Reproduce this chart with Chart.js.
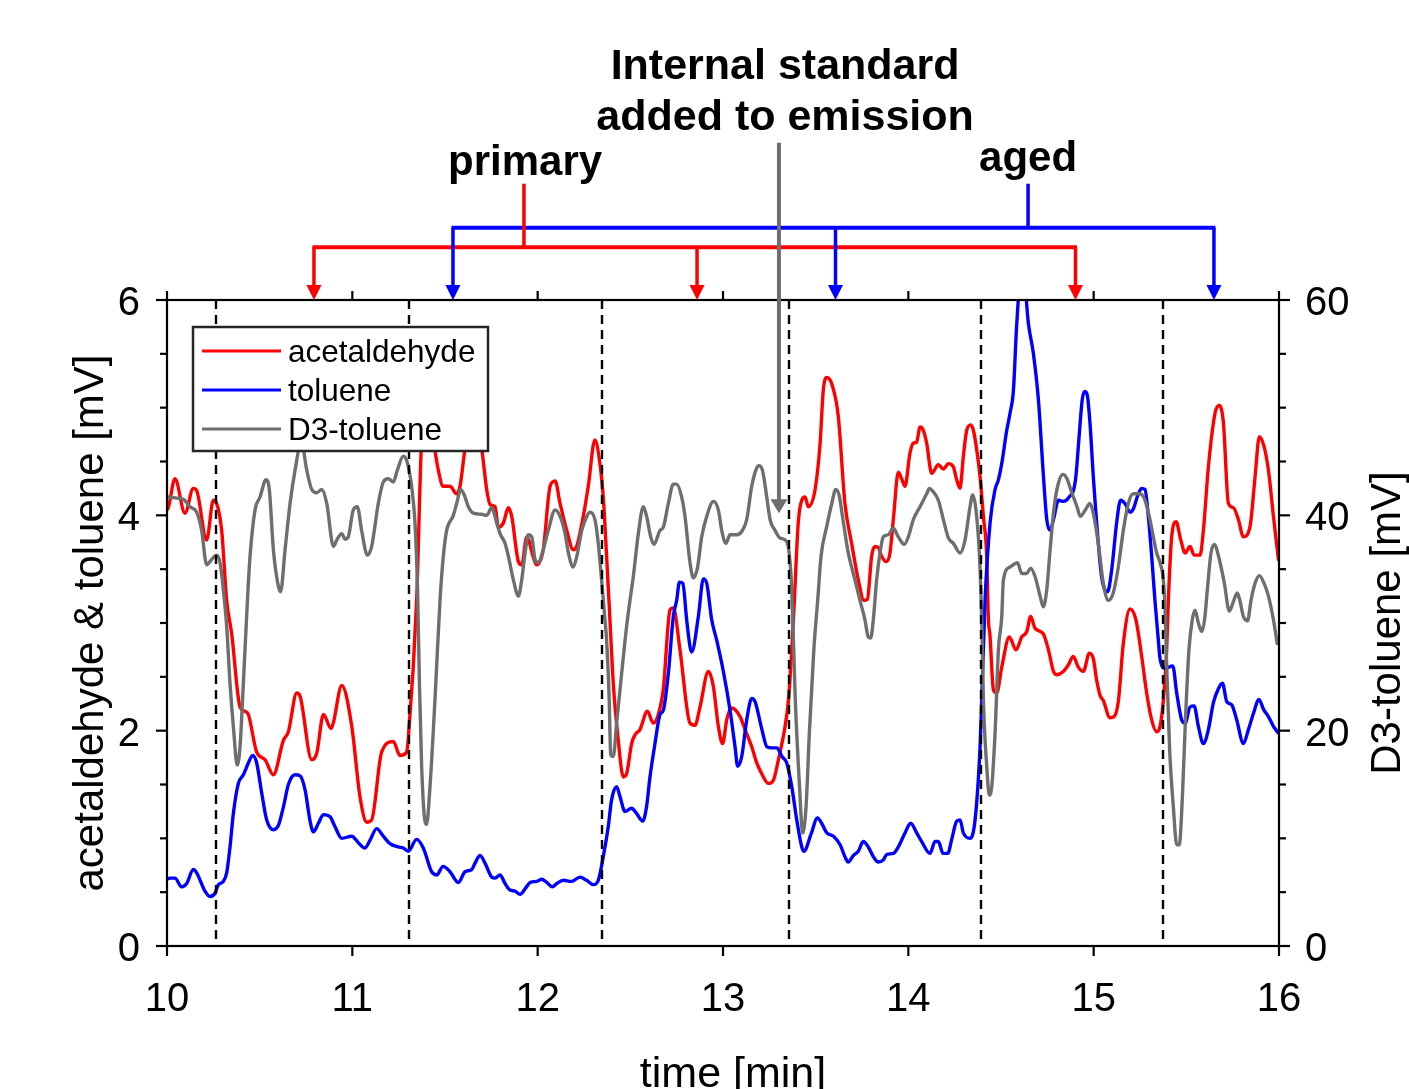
<!DOCTYPE html>
<html><head><meta charset="utf-8">
<script src="https://cdn.jsdelivr.net/npm/chart.js@4.4.1/dist/chart.umd.min.js"></script>
<style>html,body{margin:0;padding:0;background:#fff;overflow:hidden}canvas{display:block}</style>
</head><body>
<canvas id="c" width="1409" height="1089"></canvas>
<script>
// ---------- data (time in min, signal in mV) ----------
const seriesNames = ['acetaldehyde', 'toluene', 'D3-toluene'];
const seriesColors = ['#ff0000', '#0000ff', '#6e6e6e'];

const acetTime = [10.000,10.007,10.043,10.097,10.142,10.160,10.214,10.250,10.268,10.295,10.322,10.349,10.394,10.421,10.439,10.484,10.529,10.574,10.628,10.655,10.700,10.718,10.781,10.808,10.844,10.885,10.897,10.943,10.997,11.041,11.078,11.104,11.158,11.221,11.257,11.293,11.302,11.347,11.374,11.410,11.446,11.464,11.490,11.527,11.563,11.581,11.608,11.650,11.698,11.725,11.743,11.770,11.788,11.815,11.842,11.860,11.896,11.914,11.941,11.977,11.995,12.030,12.067,12.094,12.121,12.157,12.192,12.210,12.246,12.273,12.309,12.336,12.354,12.372,12.390,12.408,12.435,12.462,12.480,12.507,12.525,12.552,12.592,12.624,12.651,12.678,12.714,12.732,12.768,12.822,12.849,12.876,12.921,12.948,12.975,12.998,13.020,13.047,13.092,13.119,13.155,13.182,13.209,13.245,13.272,13.299,13.335,13.353,13.371,13.385,13.406,13.425,13.443,13.460,13.497,13.524,13.541,13.560,13.587,13.622,13.658,13.694,13.730,13.761,13.779,13.802,13.820,13.838,13.856,13.880,13.901,13.919,13.946,13.964,13.982,14.009,14.027,14.045,14.063,14.081,14.099,14.126,14.162,14.189,14.216,14.243,14.261,14.279,14.297,14.315,14.337,14.351,14.369,14.387,14.405,14.423,14.432,14.440,14.459,14.477,14.504,14.545,14.581,14.612,14.639,14.660,14.684,14.728,14.756,14.783,14.800,14.836,14.863,14.890,14.917,14.944,14.977,14.998,15.016,15.034,15.052,15.088,15.110,15.133,15.160,15.196,15.228,15.259,15.286,15.313,15.340,15.358,15.376,15.394,15.403,15.421,15.445,15.470,15.494,15.520,15.542,15.574,15.592,15.619,15.655,15.678,15.700,15.727,15.754,15.781,15.808,15.844,15.871,15.894,15.919,15.943,15.970,15.997];
const acetVals = [4.05,4.07,4.34,4.02,4.25,4.23,3.77,4.14,4.11,3.86,3.21,2.90,2.22,2.18,2.15,1.80,1.73,1.59,1.91,1.99,2.35,2.32,1.73,1.79,2.15,2.02,2.07,2.42,2.04,1.39,1.15,1.17,1.80,1.90,1.77,1.80,1.93,3.21,4.70,5.05,4.60,4.42,4.27,4.27,4.20,4.27,4.62,5.00,4.62,4.24,4.10,4.08,3.89,3.93,4.07,3.99,3.57,3.54,3.80,3.61,3.54,3.68,4.27,4.32,4.11,3.86,3.68,3.71,3.99,4.27,4.70,4.48,4.17,3.62,3.03,2.44,1.91,1.57,1.60,1.88,1.96,2.01,2.18,2.07,2.15,2.39,3.12,3.14,2.75,2.07,2.05,2.22,2.55,2.41,2.04,1.88,2.10,2.21,2.13,2.01,1.85,1.70,1.60,1.51,1.54,1.73,2.04,2.28,2.75,3.21,3.93,4.14,4.17,4.08,4.24,4.67,5.16,5.28,5.22,4.92,4.11,3.74,3.40,3.21,3.22,3.62,3.71,3.70,3.62,3.57,3.65,3.96,4.40,4.34,4.27,4.58,4.67,4.68,4.82,4.79,4.67,4.39,4.47,4.43,4.48,4.45,4.33,4.25,4.55,4.79,4.84,4.79,4.61,4.36,3.99,3.62,3.03,2.90,2.38,2.35,2.59,2.87,2.75,2.87,2.92,3.06,2.95,2.90,2.75,2.55,2.52,2.55,2.61,2.69,2.59,2.55,2.72,2.67,2.47,2.33,2.28,2.12,2.13,2.27,2.81,3.13,3.03,2.69,2.35,2.10,1.99,2.04,2.28,2.75,3.21,3.80,3.94,3.77,3.65,3.71,3.63,3.63,3.86,4.45,4.95,5.02,4.86,4.11,4.07,3.96,3.80,3.90,4.36,4.73,4.64,4.42,3.99,3.59];

const tolTime = [10.000,10.016,10.043,10.079,10.106,10.142,10.160,10.205,10.232,10.259,10.277,10.304,10.322,10.340,10.358,10.385,10.412,10.439,10.462,10.484,10.511,10.538,10.574,10.601,10.628,10.655,10.691,10.718,10.745,10.772,10.790,10.817,10.844,10.880,10.906,10.943,10.997,11.032,11.068,11.095,11.131,11.167,11.203,11.248,11.275,11.302,11.347,11.383,11.428,11.455,11.490,11.527,11.572,11.608,11.644,11.662,11.689,11.716,11.752,11.770,11.797,11.824,11.851,11.878,11.905,11.932,11.959,11.995,12.022,12.049,12.079,12.103,12.138,12.183,12.228,12.264,12.300,12.327,12.354,12.381,12.399,12.426,12.444,12.471,12.507,12.534,12.567,12.588,12.606,12.633,12.660,12.678,12.705,12.732,12.750,12.765,12.783,12.804,12.822,12.831,12.867,12.894,12.912,12.939,12.966,13.002,13.038,13.065,13.079,13.101,13.128,13.155,13.173,13.210,13.237,13.264,13.291,13.318,13.344,13.371,13.398,13.425,13.437,13.475,13.510,13.532,13.560,13.596,13.632,13.658,13.676,13.703,13.730,13.757,13.784,13.811,13.838,13.865,13.883,13.919,13.946,13.982,14.013,14.045,14.072,14.117,14.144,14.162,14.187,14.213,14.234,14.261,14.279,14.297,14.333,14.360,14.387,14.396,14.414,14.441,14.468,14.486,14.504,14.531,14.549,14.567,14.585,14.615,14.648,14.675,14.702,14.728,14.747,14.765,14.783,14.810,14.836,14.863,14.902,14.920,14.938,14.951,14.965,14.980,14.998,15.016,15.043,15.075,15.097,15.124,15.145,15.169,15.196,15.214,15.241,15.259,15.277,15.295,15.313,15.331,15.349,15.358,15.385,15.427,15.448,15.475,15.494,15.520,15.542,15.565,15.592,15.619,15.646,15.673,15.695,15.718,15.745,15.772,15.808,15.835,15.862,15.892,15.916,15.943,15.970,15.995];
const tolVals = [0.62,0.63,0.63,0.55,0.58,0.71,0.68,0.51,0.46,0.49,0.57,0.60,0.68,0.92,1.23,1.51,1.59,1.70,1.77,1.70,1.42,1.17,1.08,1.12,1.29,1.50,1.59,1.58,1.45,1.16,1.06,1.14,1.22,1.20,1.11,1.00,1.02,0.96,0.91,0.98,1.09,1.02,0.95,0.92,0.91,0.88,0.99,0.91,0.69,0.66,0.74,0.69,0.59,0.69,0.71,0.77,0.84,0.77,0.64,0.63,0.66,0.58,0.52,0.51,0.48,0.53,0.59,0.60,0.62,0.59,0.55,0.58,0.61,0.60,0.64,0.61,0.57,0.61,0.83,1.11,1.36,1.48,1.39,1.25,1.28,1.23,1.16,1.30,1.57,1.88,2.15,2.19,2.53,3.06,3.21,3.38,3.37,3.03,2.78,2.73,3.06,3.41,3.37,3.03,2.84,2.55,2.19,1.85,1.67,1.76,2.10,2.30,2.27,2.01,1.85,1.84,1.84,1.76,1.70,1.48,1.17,0.92,0.88,1.04,1.19,1.14,1.05,1.02,0.94,0.83,0.78,0.84,0.88,0.97,0.92,0.83,0.78,0.80,0.85,0.86,0.92,1.05,1.14,1.05,0.97,0.86,0.97,0.97,0.86,0.86,0.99,1.16,1.17,1.05,1.00,1.17,1.85,2.29,3.21,3.93,4.24,4.33,4.48,4.79,4.95,5.16,5.78,6.35,5.78,5.50,5.07,4.39,3.96,3.86,3.96,4.14,4.13,4.16,4.33,4.70,5.07,5.15,5.12,4.86,4.36,3.93,3.43,3.29,3.49,3.93,4.14,4.11,4.03,4.06,4.20,4.25,4.24,3.99,3.62,3.20,2.84,2.67,2.58,2.60,2.35,2.10,2.07,2.22,2.23,2.04,1.88,2.01,2.26,2.39,2.44,2.27,2.24,2.10,1.88,2.01,2.16,2.29,2.20,2.13,2.04,1.98];

const d3Time = [10.000,10.007,10.052,10.088,10.124,10.160,10.187,10.214,10.241,10.268,10.286,10.304,10.322,10.340,10.358,10.379,10.394,10.412,10.434,10.448,10.475,10.502,10.534,10.552,10.574,10.601,10.613,10.637,10.664,10.691,10.725,10.754,10.781,10.808,10.835,10.862,10.898,10.916,10.943,10.960,10.978,11.005,11.027,11.050,11.081,11.104,11.140,11.167,11.194,11.221,11.243,11.275,11.293,11.302,11.320,11.338,11.352,11.362,11.374,11.392,11.401,11.419,11.446,11.473,11.491,11.509,11.545,11.563,11.585,11.608,11.626,11.653,11.698,11.725,11.752,11.779,11.797,11.824,11.842,11.869,11.896,11.914,11.932,11.950,11.968,11.986,12.004,12.030,12.057,12.094,12.121,12.148,12.166,12.192,12.210,12.238,12.265,12.282,12.309,12.327,12.345,12.363,12.372,12.386,12.394,12.408,12.426,12.453,12.480,12.498,12.516,12.543,12.570,12.588,12.610,12.628,12.660,12.678,12.705,12.732,12.750,12.777,12.795,12.822,12.840,12.862,12.885,12.912,12.948,12.975,12.993,13.016,13.038,13.074,13.101,13.128,13.155,13.182,13.196,13.214,13.236,13.254,13.281,13.307,13.343,13.357,13.371,13.390,13.412,13.430,13.448,13.466,13.490,13.511,13.529,13.560,13.587,13.608,13.626,13.650,13.676,13.712,13.739,13.766,13.784,13.797,13.811,13.829,13.847,13.865,13.892,13.919,13.946,13.978,14.000,14.027,14.063,14.099,14.113,14.134,14.162,14.189,14.216,14.243,14.279,14.306,14.333,14.347,14.365,14.383,14.396,14.405,14.423,14.437,14.450,14.468,14.486,14.504,14.513,14.549,14.589,14.612,14.639,14.660,14.684,14.711,14.728,14.747,14.765,14.787,14.810,14.834,14.856,14.880,14.910,14.928,14.955,14.980,14.998,15.025,15.052,15.079,15.106,15.133,15.160,15.187,15.214,15.250,15.277,15.300,15.322,15.340,15.358,15.376,15.386,15.394,15.410,15.430,15.448,15.462,15.478,15.496,15.514,15.532,15.547,15.565,15.583,15.599,15.614,15.633,15.651,15.678,15.705,15.732,15.754,15.775,15.790,15.808,15.830,15.850,15.871,15.894,15.919,15.943,15.970,15.990];
const d3Vals = [41.7,41.7,41.6,41.5,40.8,40.3,38.6,35.4,35.9,36.3,35.6,33.1,29.7,24.4,20.4,16.8,18.5,24.4,32.1,36.2,40.5,41.7,43.3,42.4,36.8,33.4,32.9,36.8,41.1,44.2,46.8,44.2,42.4,42.1,42.4,41.1,37.1,37.7,38.3,37.8,38.0,40.5,40.8,38.6,36.3,37.1,41.1,43.1,43.4,43.1,44.2,45.5,45.1,44.5,42.7,39.3,33.1,24.4,16.7,11.6,11.3,14.8,22.9,32.1,36.2,38.6,40.0,41.1,42.4,41.7,40.8,40.2,40.1,40.0,40.7,39.3,38.3,37.4,36.2,34.0,32.5,34.0,36.5,38.2,38.0,35.9,35.6,36.8,38.6,40.5,39.9,38.3,36.5,35.2,36.1,38.6,39.9,40.3,39.6,37.4,34.0,30.3,28.4,22.9,17.8,17.6,20.7,25.3,29.7,32.1,34.3,38.3,40.8,39.9,38.0,37.3,38.6,38.9,41.1,42.9,42.9,41.7,39.9,35.6,34.2,35.1,38.0,39.9,41.3,40.5,38.6,37.4,38.2,38.2,38.5,39.6,42.7,44.4,44.6,44.1,41.7,39.6,38.6,37.9,37.6,36.5,33.1,22.9,15.1,10.5,12.9,19.8,27.5,32.1,36.2,39.0,41.1,42.4,41.9,39.3,36.5,34.0,32.1,30.3,28.7,28.6,30.3,34.0,36.5,38.0,38.2,38.8,38.0,37.3,38.0,39.6,40.8,42.0,42.5,42.2,41.4,39.6,37.9,37.4,36.5,37.7,40.8,41.9,40.5,36.5,30.3,22.9,16.7,14.0,14.8,19.8,27.5,30.6,34.0,35.2,35.6,34.6,34.6,35.1,34.3,32.5,31.5,33.1,36.8,40.8,43.0,43.8,43.4,42.2,40.8,39.9,40.5,41.1,40.2,37.4,33.7,32.1,32.8,35.2,38.6,41.1,42.0,42.0,41.4,39.9,38.0,36.5,35.6,34.0,31.0,26.0,18.2,12.9,9.4,9.4,13.6,21.3,27.5,30.3,31.2,30.0,29.2,30.4,33.2,36.5,37.3,35.9,33.7,31.1,32.0,32.8,32.0,30.6,30.2,32.2,33.7,34.4,33.7,32.5,30.3,28.1];

// axis ticks
const xTickValues = [10, 11, 12, 13, 14, 15, 16];
const leftTickLabels = [0, 2, 4, 6];
const rightTickLabels = [0, 20, 40, 60];

// annotations (times in min)
const injectionTimes = [10.264, 11.306, 12.347, 13.356, 14.392, 15.374];
const primaryArrowTimes = [10.793, 12.860, 14.902];
const agedArrowTimes = [11.543, 13.607, 15.649];
const primaryStemTime = 11.926;
const agedStemTime = 14.646;
const internalStdTime = 13.302;

const FONT = '"Liberation Sans", Arial, Helvetica, sans-serif';
Chart.defaults.font.family = FONT;
Chart.defaults.color = '#000';

const toXY = (ts, vs) => ts.map((t, i) => ({ x: t, y: vs[i] }));

const overlay = {
  id: 'overlay',
  afterDatasetsDraw(chart) {
    const { ctx, chartArea: a, scales: { x } } = chart;
    ctx.save();
    // dashed injection lines
    ctx.strokeStyle = '#000'; ctx.lineWidth = 2.4; ctx.setLineDash([9, 6]);
    injectionTimes.forEach(t => {
      const px = Math.round(x.getPixelForValue(t));
      ctx.beginPath(); ctx.moveTo(px, a.top); ctx.lineTo(px, a.bottom); ctx.stroke();
    });
    ctx.setLineDash([]);
    // legend box (inside plot)
    const lx = a.left + 26, ly = a.top + 27, lw = 295, lh = 124;
    ctx.fillStyle = '#fff'; ctx.fillRect(lx, ly, lw, lh);
    ctx.strokeStyle = '#262626'; ctx.lineWidth = 2.5; ctx.strokeRect(lx, ly, lw, lh);
    ctx.font = '31.5px ' + FONT; ctx.textBaseline = 'middle'; ctx.textAlign = 'left';
    chart.data.datasets.forEach((ds, i) => {
      const ry = ly + 24 + i * 39;
      ctx.strokeStyle = ds.borderColor; ctx.lineWidth = 3.2;
      ctx.beginPath(); ctx.moveTo(lx + 9, ry); ctx.lineTo(lx + 88, ry); ctx.stroke();
      ctx.fillStyle = '#000'; ctx.fillText(ds.label, lx + 95, ry + 2);
    });
    ctx.restore();
  },
  afterDraw(chart) {
    const { ctx, chartArea: a, scales: { x, y, y1 } } = chart;
    const X = t => x.getPixelForValue(t), Y = v => y.getPixelForValue(v);
    ctx.save();
    // frame
    ctx.strokeStyle = '#000'; ctx.lineWidth = 2.2;
    ctx.strokeRect(a.left, a.top, a.right - a.left, a.bottom - a.top);
    // ticks
    ctx.lineWidth = 2.2;
    xTickValues.forEach(v => {
      const px = X(v);
      ctx.beginPath(); ctx.moveTo(px, a.bottom); ctx.lineTo(px, a.bottom + 10); ctx.stroke();
      ctx.beginPath(); ctx.moveTo(px, a.top); ctx.lineTo(px, a.top - 9); ctx.stroke();
    });
    for (let v = 0; v <= 6.001; v += 0.5) {
      const py = Y(v);
      const major = leftTickLabels.includes(Math.round(v * 10) / 10);
      const L = major ? 11 : 7;
      ctx.beginPath(); ctx.moveTo(a.left, py); ctx.lineTo(a.left - L, py); ctx.stroke();
    }
    for (let v = 0; v <= 60.01; v += 5) {
      const py = y1.getPixelForValue(v);
      const L = rightTickLabels.includes(Math.round(v)) ? 11 : 7;
      ctx.beginPath(); ctx.moveTo(a.right, py); ctx.lineTo(a.right + L, py); ctx.stroke();
    }
    // axis titles
    ctx.fillStyle = '#000'; ctx.textBaseline = 'alphabetic'; ctx.textAlign = 'center';
    ctx.font = '43px ' + FONT;
    ctx.fillText('time [min]', (a.left + a.right) / 2 + 10, 1087);
    ctx.font = '42px ' + FONT;
    ctx.save(); ctx.translate(103, (a.top + a.bottom) / 2); ctx.rotate(-Math.PI / 2);
    ctx.fillText('acetaldehyde & toluene [mV]', 0, 0); ctx.restore();
    ctx.save(); ctx.translate(1400, (a.top + a.bottom) / 2); ctx.rotate(-Math.PI / 2);
    ctx.fillText('D3-toluene [mV]', 0, 0); ctx.restore();

    // annotation brackets
    const head = (px, tipY, color, w, h) => {
      ctx.fillStyle = color; ctx.beginPath();
      ctx.moveTo(px - w / 2, tipY - h); ctx.lineTo(px + w / 2, tipY - h); ctx.lineTo(px, tipY); ctx.closePath(); ctx.fill();
    };
    const vline = (px, y0, y1p, color, lw) => {
      ctx.strokeStyle = color; ctx.lineWidth = lw; ctx.beginPath(); ctx.moveTo(px, y0); ctx.lineTo(px, y1p); ctx.stroke();
    };
    const redBar = Y(6.49), blueBar = Y(6.67), stemTop = Y(7.08);
    ctx.lineCap = 'butt';
    // blue (aged)
    ctx.strokeStyle = '#0000ff'; ctx.lineWidth = 4;
    ctx.beginPath(); ctx.moveTo(X(agedArrowTimes[0]) - 1.5, blueBar); ctx.lineTo(X(agedArrowTimes[2]) + 1.5, blueBar); ctx.stroke();
    vline(X(agedStemTime), stemTop, blueBar, '#0000ff', 3.5);
    // red (primary)
    ctx.strokeStyle = '#ff0000'; ctx.lineWidth = 4;
    ctx.beginPath(); ctx.moveTo(X(primaryArrowTimes[0]) - 1.5, redBar); ctx.lineTo(X(primaryArrowTimes[2]) + 1.5, redBar); ctx.stroke();
    vline(X(primaryStemTime), stemTop, redBar, '#ff0000', 3.5);
    primaryArrowTimes.forEach(t => { vline(X(t), redBar, a.top - 12, '#ff0000', 3.5); head(X(t), a.top, '#ff0000', 15, 15); });
    agedArrowTimes.forEach(t => { vline(X(t), blueBar, a.top - 12, '#0000ff', 3.5); head(X(t), a.top, '#0000ff', 15, 15); });
    // internal standard arrow
    const tip = Y(4.02);
    vline(X(internalStdTime), Y(7.46), tip - 11, '#6e6e6e', 4);
    head(X(internalStdTime), tip, '#6e6e6e', 17, 14);

    // annotation text
    ctx.fillStyle = '#000'; ctx.textAlign = 'center'; ctx.textBaseline = 'alphabetic';
    ctx.font = 'bold 43px ' + FONT;
    ctx.fillText('Internal standard', X(13.335), Y(8.05));
    ctx.fillText('added to emission', X(13.335), Y(7.58));
    ctx.font = 'bold 42px ' + FONT;
    ctx.fillText('primary', X(11.932), Y(7.16));
    ctx.fillText('aged', X(14.646), Y(7.20));
    ctx.restore();
  }
};

new Chart(document.getElementById('c'), {
  type: 'line',
  data: {
    datasets: [
      { label: seriesNames[0], data: toXY(acetTime, acetVals), borderColor: seriesColors[0], yAxisID: 'y', order: 3 },
      { label: seriesNames[1], data: toXY(tolTime, tolVals), borderColor: seriesColors[1], yAxisID: 'y', order: 2 },
      { label: seriesNames[2], data: toXY(d3Time, d3Vals), borderColor: seriesColors[2], yAxisID: 'y1', order: 1 }
    ]
  },
  options: {
    responsive: false,
    animation: false,
    devicePixelRatio: 1,
    layout: { padding: { top: 300, left: 0, right: 0, bottom: 0 } },
    elements: {
      line: { borderWidth: 3.4, tension: 0.4, cubicInterpolationMode: 'monotone', fill: false, borderJoinStyle: 'round', borderCapStyle: 'round' },
      point: { radius: 0, hoverRadius: 0 }
    },
    plugins: { legend: { display: false }, tooltip: { enabled: false } },
    scales: {
      x: {
        type: 'linear', min: 10, max: 16,
        afterFit: s => { s.height = 143; },
        border: { display: false },
        grid: { display: true, drawOnChartArea: false, drawTicks: false },
        ticks: { stepSize: 1, padding: 30, font: { size: 40 }, color: '#000', maxRotation: 0, autoSkip: false,
                 callback: v => xTickValues.includes(v) ? String(v) : '' }
      },
      y: {
        position: 'left', min: 0, max: 6,
        afterFit: s => { s.width = 167; },
        border: { display: false },
        grid: { display: true, drawOnChartArea: false, drawTicks: false },
        ticks: { stepSize: 2, padding: 27, labelOffset: 4, font: { size: 40 }, color: '#000', autoSkip: false,
                 callback: v => leftTickLabels.includes(v) ? String(v) : '' }
      },
      y1: {
        position: 'right', min: 0, max: 60,
        afterFit: s => { s.width = 130; },
        border: { display: false },
        grid: { display: true, drawOnChartArea: false, drawTicks: false },
        ticks: { stepSize: 20, padding: 26, labelOffset: 4, font: { size: 40 }, color: '#000', autoSkip: false,
                 callback: v => rightTickLabels.includes(v) ? String(v) : '' }
      }
    }
  },
  plugins: [overlay]
});
</script>
</body></html>
